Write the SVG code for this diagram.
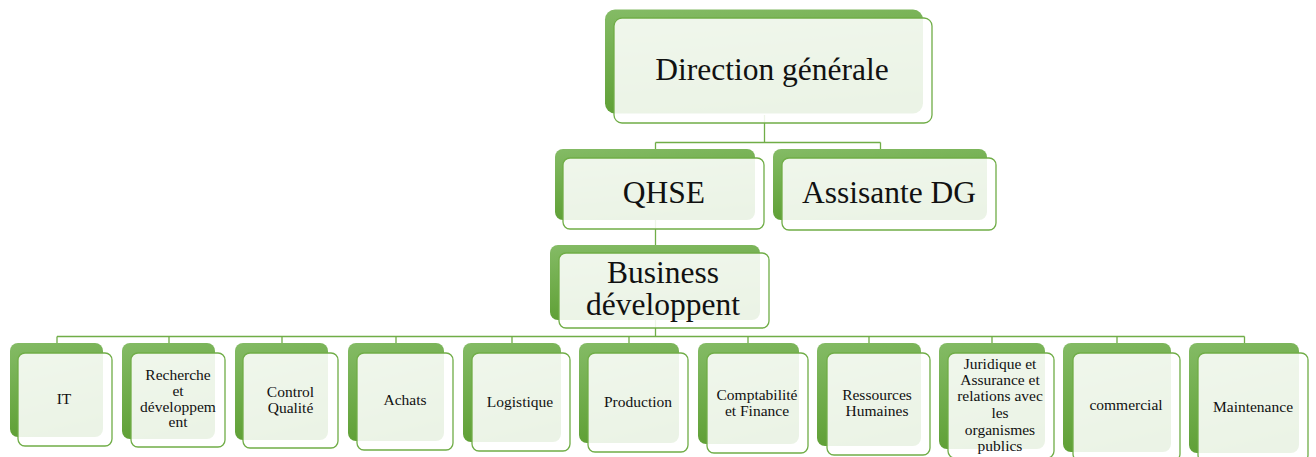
<svg xmlns="http://www.w3.org/2000/svg" width="1316" height="457" viewBox="0 0 1316 457">
<defs>
<linearGradient id="gb" x1="0" y1="0" x2="0.25" y2="1">
<stop offset="0" stop-color="#84bb65"/>
<stop offset="1" stop-color="#5e9f34"/>
</linearGradient>
<style>
.bk{fill:url(#gb);}
.fr{fill:#ffffff;fill-opacity:0.88;stroke:#70ad47;stroke-width:1.3;}
.ln{fill:none;stroke:#70ad47;stroke-width:1.3;}
.t{fill:#111;text-anchor:middle;}
.big{font-size:31.5px;}
.sm{font-size:15.5px;}
</style>
</defs>
<g id="connectors">
<path class="ln" d="M764.5 115V142.5M655.5 142.5H880.5M655.5 142.5V150M880.5 142.5V150"/>
<path class="ln" d="M655.5 220V246"/>
<path class="ln" d="M655.5 320V336.5M57 336.5H1244.5"/>
<path class="ln" d="M57 336.5V344M169 336.5V344M282 336.5V344M396 336.5V344M512 336.5V344M629 336.5V344M748 336.5V344M869 336.5V344M992 336.5V344M1117 336.5V344M1244.5 336.5V344"/>
</g>
<g font-family="'Liberation Serif', 'Times New Roman', serif">
<g id="n-direction">
<rect class="bk" x="605" y="9.5" width="318" height="104" rx="10"/>
<rect class="fr" x="614" y="18" width="318" height="105" rx="8"/>
<text class="t big" x="772" y="80">Direction générale</text>
</g>
<g id="n-qhse">
<rect class="bk" x="555" y="149" width="200" height="71" rx="8"/>
<rect class="fr" x="563" y="158" width="201" height="71" rx="7"/>
<text class="t big" x="664" y="203">QHSE</text>
</g>
<g id="n-assisante">
<rect class="bk" x="773" y="149" width="214" height="71" rx="8"/>
<rect class="fr" x="782" y="158" width="214" height="72" rx="7"/>
<text class="t big" x="889" y="203">Assisante DG</text>
</g>
<g id="n-business">
<rect class="bk" x="550" y="245" width="210" height="75" rx="8"/>
<rect class="fr" x="559" y="253" width="210" height="75" rx="7"/>
<text class="t big" x="663" y="283">Business</text>
<text class="t big" x="663" y="315">développent</text>
</g>
<g id="n-it">
<rect class="bk" x="10" y="343" width="93" height="94" rx="8"/>
<rect class="fr" x="18" y="353" width="94" height="93" rx="7"/>
<text class="t sm" x="64" y="404">IT</text>
</g>
<g id="n-recherche">
<rect class="bk" x="122" y="343" width="93" height="96" rx="8"/>
<rect class="fr" x="131" y="353" width="94" height="94" rx="7"/>
<text class="t sm" x="178" y="380">Recherche</text>
<text class="t sm" x="178" y="396">et</text>
<text class="t sm" x="178" y="412">développem</text>
<text class="t sm" x="178" y="427">ent</text>
</g>
<g id="n-control">
<rect class="bk" x="235" y="343" width="93" height="97" rx="8"/>
<rect class="fr" x="243" y="353" width="95" height="95" rx="7"/>
<text class="t sm" x="290.5" y="397">Control</text>
<text class="t sm" x="290.5" y="413">Qualité</text>
</g>
<g id="n-achats">
<rect class="bk" x="348" y="343" width="96" height="98" rx="8"/>
<rect class="fr" x="357" y="353" width="96" height="97" rx="7"/>
<text class="t sm" x="405" y="405">Achats</text>
</g>
<g id="n-logistique">
<rect class="bk" x="463" y="343" width="98" height="99" rx="8"/>
<rect class="fr" x="472" y="353" width="98" height="98" rx="7"/>
<text class="t sm" x="520" y="407">Logistique</text>
</g>
<g id="n-production">
<rect class="bk" x="579" y="343" width="100" height="100" rx="8"/>
<rect class="fr" x="588" y="353" width="100" height="99" rx="7"/>
<text class="t sm" x="638" y="407">Production</text>
</g>
<g id="n-comptabilite">
<rect class="bk" x="698" y="343" width="101" height="101" rx="8"/>
<rect class="fr" x="707" y="353" width="101" height="100" rx="7"/>
<text class="t sm" x="757" y="400">Comptabilité</text>
<text class="t sm" x="757" y="416">et Finance</text>
</g>
<g id="n-ressources">
<rect class="bk" x="817" y="343" width="104" height="103" rx="8"/>
<rect class="fr" x="827" y="353" width="103" height="102" rx="7"/>
<text class="t sm" x="877" y="400">Ressources</text>
<text class="t sm" x="877" y="416">Humaines</text>
</g>
<g id="n-juridique">
<rect class="bk" x="939" y="343" width="106" height="106" rx="8"/>
<rect class="fr" x="948" y="353" width="106" height="105" rx="7"/>
<text class="t sm" x="1000" y="369">Juridique et</text>
<text class="t sm" x="1000" y="385">Assurance et</text>
<text class="t sm" x="1000" y="401">relations avec</text>
<text class="t sm" x="1000" y="418">les</text>
<text class="t sm" x="1000" y="435">organismes</text>
<text class="t sm" x="1000" y="451">publics</text>
</g>
<g id="n-commercial">
<rect class="bk" x="1063" y="343" width="108" height="109" rx="8"/>
<rect class="fr" x="1073" y="353" width="107" height="108" rx="7"/>
<text class="t sm" x="1126" y="410">commercial</text>
</g>
<g id="n-maintenance">
<rect class="bk" x="1189" y="343" width="110" height="110" rx="8"/>
<rect class="fr" x="1198" y="353" width="110" height="109" rx="7"/>
<text class="t sm" x="1253" y="412">Maintenance</text>
</g>
</g>
</svg>
